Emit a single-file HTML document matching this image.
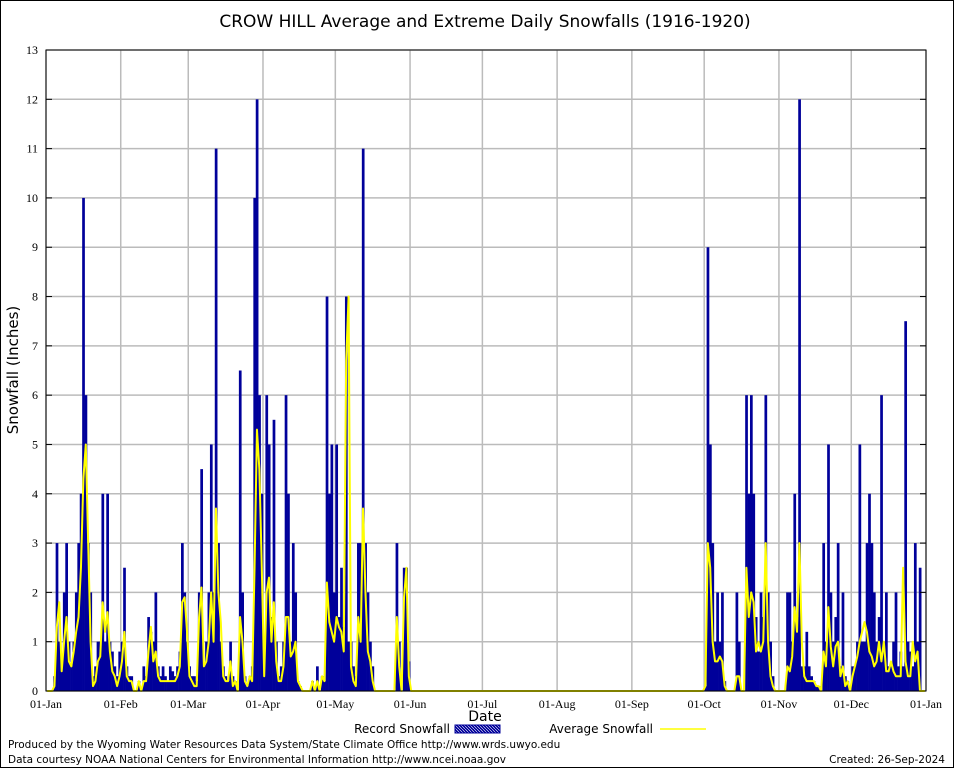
<!DOCTYPE html>
<html><head><meta charset="utf-8"><style>
body{margin:0;background:#fff;font-family:"DejaVu Sans",sans-serif}
svg text{font-family:"DejaVu Sans",sans-serif}
svg text.tick{font-family:"Liberation Serif",serif}
</style></head><body>
<svg id="chart" width="954" height="768" viewBox="0 0 954 768" xmlns="http://www.w3.org/2000/svg">
<defs><pattern id="hatch" width="3" height="3" patternUnits="userSpaceOnUse"><rect width="3" height="3" fill="#00009a"/><path d="M0,0L3,3" stroke="#fff" stroke-width="0.6"/></pattern></defs>
<rect width="954" height="768" fill="#fff"/>
<rect x="0.5" y="0.5" width="953" height="767" fill="none" stroke="#000"/>
<text x="485" y="27" font-size="17" text-anchor="middle">CROW HILL Average and Extreme Daily Snowfalls (1916-1920)</text>
<g id="grid"></g>
<g id="bars"></g>
<g id="avg"></g>
<g id="axes"></g>
<text transform="translate(18,370) rotate(-90)" font-size="15" text-anchor="middle">Snowfall (Inches)</text>
<text x="485" y="721" font-size="14" text-anchor="middle">Date</text>
<g>
<text x="450" y="733" font-size="12" text-anchor="end">Record Snowfall</text>
<rect x="455" y="725" width="45" height="8" fill="url(#hatch)" stroke="#00009a"/>
<text x="653" y="733" font-size="12" text-anchor="end">Average Snowfall</text>
<line x1="660" y1="729" x2="706" y2="729" stroke="#ffff00" stroke-width="1.5"/>
</g>
<text x="8" y="748" font-size="10.5">Produced by the Wyoming Water Resources Data System/State Climate Office http://www.wrds.uwyo.edu</text>
<text x="8" y="763" font-size="10.5">Data courtesy NOAA National Centers for Environmental Information http://www.ncei.noaa.gov</text>
<text x="945" y="763" font-size="10.5" text-anchor="end">Created:  26-Sep-2024</text>
</svg>
<script>
const monthLabels=["01-Jan","01-Feb","01-Mar","01-Apr","01-May","01-Jun","01-Jul","01-Aug","01-Sep","01-Oct","01-Nov","01-Dec","01-Jan"];
const monthStarts=[0,31,59,90,120,151,181,212,243,273,304,334,365];
const yTicks=[0,1,2,3,4,5,6,7,8,9,10,11,12,13];
const recordDays=[3,4,5,6,7,8,9,10,11,12,13,14,15,16,17,18,19,20,21,22,23,24,25,26,27,28,29,30,31,32,33,34,35,38,40,41,42,43,44,45,46,47,48,49,50,51,52,53,54,55,56,57,58,59,60,61,62,63,64,65,66,67,68,69,70,71,72,73,74,75,76,77,78,80,81,82,83,84,85,86,87,88,89,90,91,92,93,94,95,96,97,98,99,100,101,102,103,104,105,110,112,114,115,116,117,118,119,120,121,122,123,124,125,126,127,128,129,130,131,132,133,134,135,145,146,148,149,150,273,274,275,276,277,278,279,280,281,286,287,290,291,292,293,294,295,296,297,298,299,300,301,307,308,309,310,311,312,313,314,315,316,317,318,319,320,322,323,324,325,326,327,328,329,330,331,332,334,335,336,337,338,339,340,341,342,343,344,345,346,347,348,349,350,351,352,353,354,355,356,357,358,359,360,361,362,363,364];
const recordVals=[0.3,3,1,0.5,2,3,1,0.5,1,2,3,4,10,6,3,2,0.3,0.5,1,1,4,1,4,1,0.8,0.5,0.3,0.8,1,2.5,0.5,0.3,0.3,0.2,0.5,0.3,1.5,1.2,1,2,0.5,0.3,0.5,0.3,0.2,0.5,0.4,0.3,0.5,0.8,3,2,1,0.5,0.3,0.3,0.2,2,4.5,0.5,1,2,5,2,11,3,1,0.5,0.3,0.2,1,0.3,0.2,6.5,2,0.3,0.1,0.3,0.5,10,12,6,4,0.5,6,5,1.5,5.5,1,0.3,0.5,1,6,4,1,3,2,0.2,0.1,0.2,0.5,0.3,0.2,8,4,5,2,5,1.5,2.5,1.3,8,1,1,0.5,0.3,3,3,11,3,2,1,0.5,3,1,2.5,2.5,0.6,0.1,9,5,3,1,2,1,2,0.2,2,1,6,4,6,4,1.5,0.8,2,1.5,6,2,1,0.3,2,2,1,4,1.5,12,0.5,0.5,1.2,0.5,0.3,0.2,0.1,0.1,3,1,5,2,1,1.5,3,0.5,2,0.3,0.2,0.5,0.5,1,5,1,1,3,4,3,2,1,1.5,6,1,2,0.5,0.5,1,2,0.5,0.8,0.5,7.5,1,0.8,0.5,3,1,2.5];
const averageVals=[0.1,1.3,1.8,0.4,1,1.5,0.6,0.5,0.8,1.2,1.5,2.5,4.3,5,3,1,0.1,0.2,0.6,0.7,1.8,1.2,1.6,0.8,0.4,0.3,0.1,0.3,0.6,1.2,0.3,0.2,0.2,0.2,0.2,0.2,0.8,1.3,0.6,0.8,0.3,0.2,0.2,0.2,0.2,0.2,0.2,0.2,0.3,0.5,1.8,1.9,1.2,0.3,0.2,0.1,0.1,1.5,2.1,0.5,0.6,1,2,1,3.7,2,1.4,0.3,0.2,0.2,0.6,0.1,0.2,1.5,1,0.2,0.1,0.3,0.2,2.5,5.3,4.5,2.5,0.3,2,2.3,1,1.8,0.6,0.2,0.2,0.5,1.5,1.5,0.7,0.8,1,0.2,0.1,0.2,0.2,0.3,0.2,2.2,1.4,1.2,1,1.5,1.3,1.2,0.8,6.7,8,0.5,0.2,0.1,1.5,1,3.7,2,0.8,0.6,0.2,1.5,0.5,1.9,2.5,0.3,0.1,3,2.5,1,0.6,0.6,0.7,0.6,0.1,0.3,0.3,2.5,1.5,2,1.8,0.8,1,0.8,1,3,1,0.3,0.1,0.5,0.4,0.7,1.7,1.2,3,1,0.3,0.2,0.2,0.2,0.2,0.1,0.1,0.8,0.5,1.7,0.9,0.5,0.9,1,0.3,0.5,0.1,0.2,0.3,0.5,0.7,1,1.2,1.4,1.2,0.8,0.7,0.5,0.6,1,0.6,1,0.4,0.4,0.6,0.4,0.3,0.3,0.3,2.5,0.6,0.3,0.3,1,0.6,0.8];
const NS="http://www.w3.org/2000/svg";
const L=46,R=926,T=50,B=691,ymax=13,days=365;
const X=d=>L+d*(R-L)/days;
const Y=v=>B-v*(B-T)/ymax;
function mk(tag,attrs,parent){const e=document.createElementNS(NS,tag);for(const k in attrs)e.setAttribute(k,attrs[k]);parent.appendChild(e);return e;}
const grid=document.getElementById('grid'),axes=document.getElementById('axes'),bars=document.getElementById('bars'),avg=document.getElementById('avg');
yTicks.forEach(v=>{
  const g=mk('line',{x1:L,x2:R,y1:Y(v),y2:Y(v),stroke:'#bbb','stroke-width':1.5},grid);
  
  
  const t=mk('text',{x:L-8,y:Y(v)+4,'font-size':12,'text-anchor':'end','class':'tick'},axes);
  t.textContent=v;
  
  
  mk('line',{x1:L,x2:L+6,y1:Y(v),y2:Y(v),stroke:'#000'},axes);
  mk('line',{x1:R,x2:R-6,y1:Y(v),y2:Y(v),stroke:'#000'},axes);
});
monthStarts.forEach((d,i)=>{
  const g=mk('line',{x1:X(d),x2:X(d),y1:T,y2:B,stroke:'#bbb','stroke-width':1.5},grid);
  
  
  const t=mk('text',{x:X(d),y:708,'font-size':12,'text-anchor':'middle','class':'tick'},axes);
  t.textContent=monthLabels[i];
  
  
});
const w=(R-L)/days;
recordDays.forEach((d,i)=>{
  const v=recordVals[i];
  const b=mk('rect',{x:X(d),y:Y(v),width:w+0.3,height:B-Y(v),fill:'#00009a'},bars);
  
  
});
const avgMap={};recordDays.forEach((d,i)=>avgMap[d]=averageVals[i]);
let pts=[];
for(let d=0;d<days;d++){const v=avgMap[d]||0;pts.push(X(d+0.5)+','+Y(v));}
const pl=mk('polyline',{points:pts.join(' '),fill:'none',stroke:'#ffff00','stroke-width':2,'stroke-linejoin':'round'},avg);


const fr=mk('rect',{x:L,y:T,width:R-L,height:B-T,fill:'none',stroke:'#000'},axes);


</script>
</body></html>
